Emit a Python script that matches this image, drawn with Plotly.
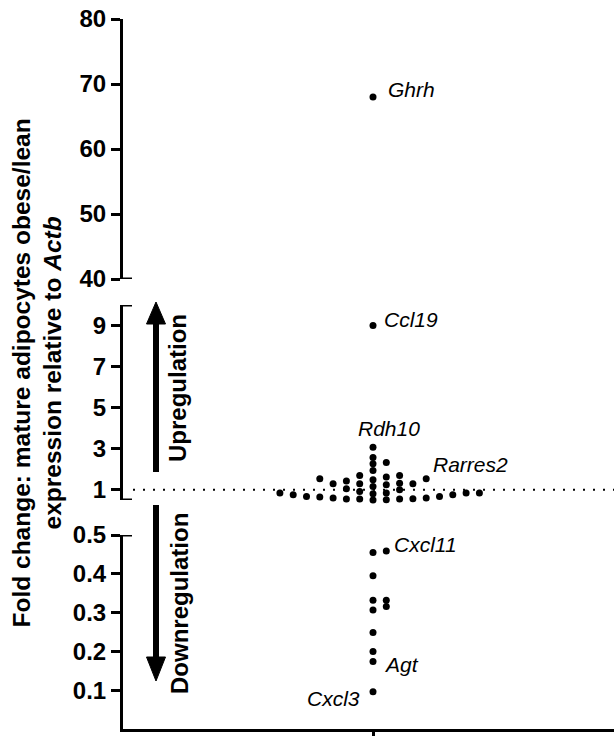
import numpy as np
import plotly.graph_objects as go

# ---------------- data ----------------
top_values = [68.0]  # Ghrh
middle_values = [9.0, 3.07, 2.57, 2.33, 2.26, 1.94, 1.69, 1.69, 1.62, 1.53, 1.53, 1.49, 1.42,
                 1.32, 1.29, 1.29, 1.29, 1.24, 1.16, 1.05, 1.00, 0.92, 0.84, 0.84, 0.84, 0.84,
                 0.81, 0.76, 0.76, 0.67, 0.67, 0.65, 0.60, 0.60, 0.56, 0.55, 0.55, 0.55, 0.51, 0.50]
bottom_values = [0.459, 0.455, 0.395, 0.332, 0.332, 0.316, 0.307, 0.249, 0.200, 0.174, 0.096]

label_genes = ["Ghrh", "Ccl19", "Rdh10", "Rarres2", "Cxcl11", "Agt", "Cxcl3"]
label_values = [68.0, 9.0, 3.07, 1.42, 0.459, 0.174, 0.096]
label_segments = ["top", "mid", "mid", "mid", "bot", "bot", "bot"]

top_ticks = [40, 50, 60, 70, 80]
mid_ticks = [1, 3, 5, 7, 9]
bot_ticks = [0.1, 0.2, 0.3, 0.4, 0.5]
bot_ticktext = ["0.1", "0.2", "0.3", "0.4", "0.5"]

# ---------------- geometry / style ----------------
W, H = 614, 736
ML, MR, MT, MB = 123, 0, 19, 7
PW, PH = W - ML - MR, H - MT - MB
BOTTOM_PX = H - MB  # pixel row of paper y = 0

def paper_y(py):
    return (BOTTOM_PX - py) / PH

seg = {
    "bot": dict(axis="y", range=[0, 0.5], px=(535, BOTTOM_PX)),
    "mid": dict(axis="y2", range=[0.5, 10], px=(305, 500)),
    "top": dict(axis="y3", range=[40, 80], px=(MT, 279)),
}
for s in seg.values():
    s["domain"] = [paper_y(s["px"][1]), paper_y(s["px"][0])]
    s["ppu"] = (s["px"][1] - s["px"][0]) / (s["range"][1] - s["range"][0])

X_RANGE = [-250, PW - 250]  # x in pixel-like units, column centred at 0
FONT = "Liberation Sans, Arial, sans-serif"
COL_W = 13.3


def swarm(vals, ppu, col=COL_W, min_dy=6.0):
    """Simple column-based beeswarm computed from the values."""
    vals = np.asarray(vals, dtype=float)
    order = np.argsort(vals, kind="stable")
    placed = {}
    xs = np.zeros(len(vals))
    seq = [0]
    for m in range(1, 80):
        seq += [m, -m]
    for i in order:
        y = vals[i] * ppu
        for k in seq:
            if all(abs(y - yy) >= min_dy for yy in placed.get(k, [])):
                placed.setdefault(k, []).append(y)
                xs[i] = k * col
                break
    return xs


fig = go.Figure()
for name, vals in [("bot", bottom_values), ("mid", middle_values), ("top", top_values)]:
    xs = swarm(vals, seg[name]["ppu"])
    fig.add_trace(go.Scatter(
        x=xs, y=vals, mode="markers", xaxis="x", yaxis=seg[name]["axis"],
        marker=dict(size=7, color="black", line=dict(width=0)),
        showlegend=False, hoverinfo="y", cliponaxis=False,
    ))

tickfont = dict(family=FONT, size=24, color="black", weight="bold")
yax_common = dict(showline=True, linewidth=3, linecolor="black", ticks="outside",
                  ticklen=9, tickwidth=3, tickcolor="black", showgrid=False,
                  zeroline=False, tickfont=tickfont, anchor="x", fixedrange=True,
                  automargin=False)

fig.update_layout(
    width=W, height=H, autosize=False,
    margin=dict(l=ML, r=MR, t=MT, b=MB, pad=0, autoexpand=False),
    paper_bgcolor="white", plot_bgcolor="white",
    xaxis=dict(range=X_RANGE, showline=True, linewidth=3, linecolor="black",
               ticks="outside", tickvals=[0], ticklen=7, tickwidth=3, tickcolor="black",
               showticklabels=False, showgrid=False, zeroline=False, anchor="y",
               automargin=False, fixedrange=True),
    yaxis=dict(domain=seg["bot"]["domain"], range=seg["bot"]["range"],
               tickvals=bot_ticks, ticktext=bot_ticktext, **yax_common),
    yaxis2=dict(domain=seg["mid"]["domain"], range=seg["mid"]["range"],
                tickvals=mid_ticks, **yax_common),
    yaxis3=dict(domain=seg["top"]["domain"], range=seg["top"]["range"],
                tickvals=top_ticks, **yax_common),
)

# ---------------- broken-axis end caps ----------------
cap_x0, cap_x1 = -3 / PW, 9 / PW
shapes = []
for yref, yv in [("y3", 40), ("y2", 10), ("y2", 0.5), ("y", 0.5)]:
    shapes.append(dict(type="line", xref="paper", yref=yref, x0=cap_x0, x1=cap_x1,
                       y0=yv, y1=yv, line=dict(color="black", width=3)))

# dotted reference line at fold change = 1
shapes.append(dict(type="line", xref="paper", yref="y2", x0=10 / PW, x1=1, y0=1, y1=1,
                   line=dict(color="black", width=2, dash="2px,8px")))

# arrows (decoration)
AX = 156 - (ML + 250)
def arrow(shaft_from, head_base, tip):
    out = [dict(type="line", xref="x", yref="paper", x0=AX, x1=AX,
                y0=paper_y(shaft_from), y1=paper_y(head_base),
                line=dict(color="black", width=6))]
    path = (f"M {AX - 9.5},{paper_y(head_base)} L {AX + 9.5},{paper_y(head_base)} "
            f"L {AX},{paper_y(tip)} Z")
    out.append(dict(type="path", xref="x", yref="paper", path=path,
                    fillcolor="black", line=dict(color="black", width=1)))
    return out

shapes += arrow(472, 324, 302)
shapes += arrow(505, 657, 681)
fig.update_layout(shapes=shapes)

# ---------------- text ----------------
annotations = []
bold = dict(family=FONT, size=24, color="black", weight="bold")
annotations.append(dict(text="Upregulation", xref="x", yref="paper", x=177 - (ML + 250),
                        y=paper_y(388), textangle=-90, showarrow=False, font=bold,
                        xanchor="center", yanchor="middle"))
annotations.append(dict(text="Downregulation", xref="x", yref="paper", x=179 - (ML + 250),
                        y=paper_y(604), textangle=-90, showarrow=False, font=bold,
                        xanchor="center", yanchor="middle"))

title_font = dict(family=FONT, size=24.5, color="black", weight="bold")
annotations.append(dict(text="Fold change: mature adipocytes obese/lean", xref="paper",
                        yref="paper", x=(21 - ML) / PW, y=paper_y(373.5), textangle=-90,
                        showarrow=False, font=title_font, xanchor="center", yanchor="middle"))
annotations.append(dict(text="expression relative to <i>Actb</i>", xref="paper",
                        yref="paper", x=(52 - ML) / PW, y=paper_y(373.5), textangle=-90,
                        showarrow=False, font=title_font, xanchor="center", yanchor="middle"))

label_style = {
    "Ghrh": dict(xanchor="left", xshift=13, yshift=8),
    "Ccl19": dict(xanchor="left", xshift=9, yshift=6),
    "Rdh10": dict(xanchor="center", xshift=16, yshift=19),
    "Rarres2": dict(xanchor="left", xshift=58, yshift=17),
    "Cxcl11": dict(xanchor="left", xshift=19, yshift=6),
    "Agt": dict(xanchor="left", xshift=9, yshift=-3),
    "Cxcl3": dict(xanchor="right", xshift=-11, yshift=-7),
}
label_font = dict(family=FONT, size=21, color="black", style="italic")
for g, v, sname in zip(label_genes, label_values, label_segments):
    annotations.append(dict(text=g, xref="x", yref=seg[sname]["axis"], x=0, y=v,
                            showarrow=False, font=label_font, yanchor="middle",
                            **label_style[g]))
fig.update_layout(annotations=annotations)

fig.write_html("out.html")
